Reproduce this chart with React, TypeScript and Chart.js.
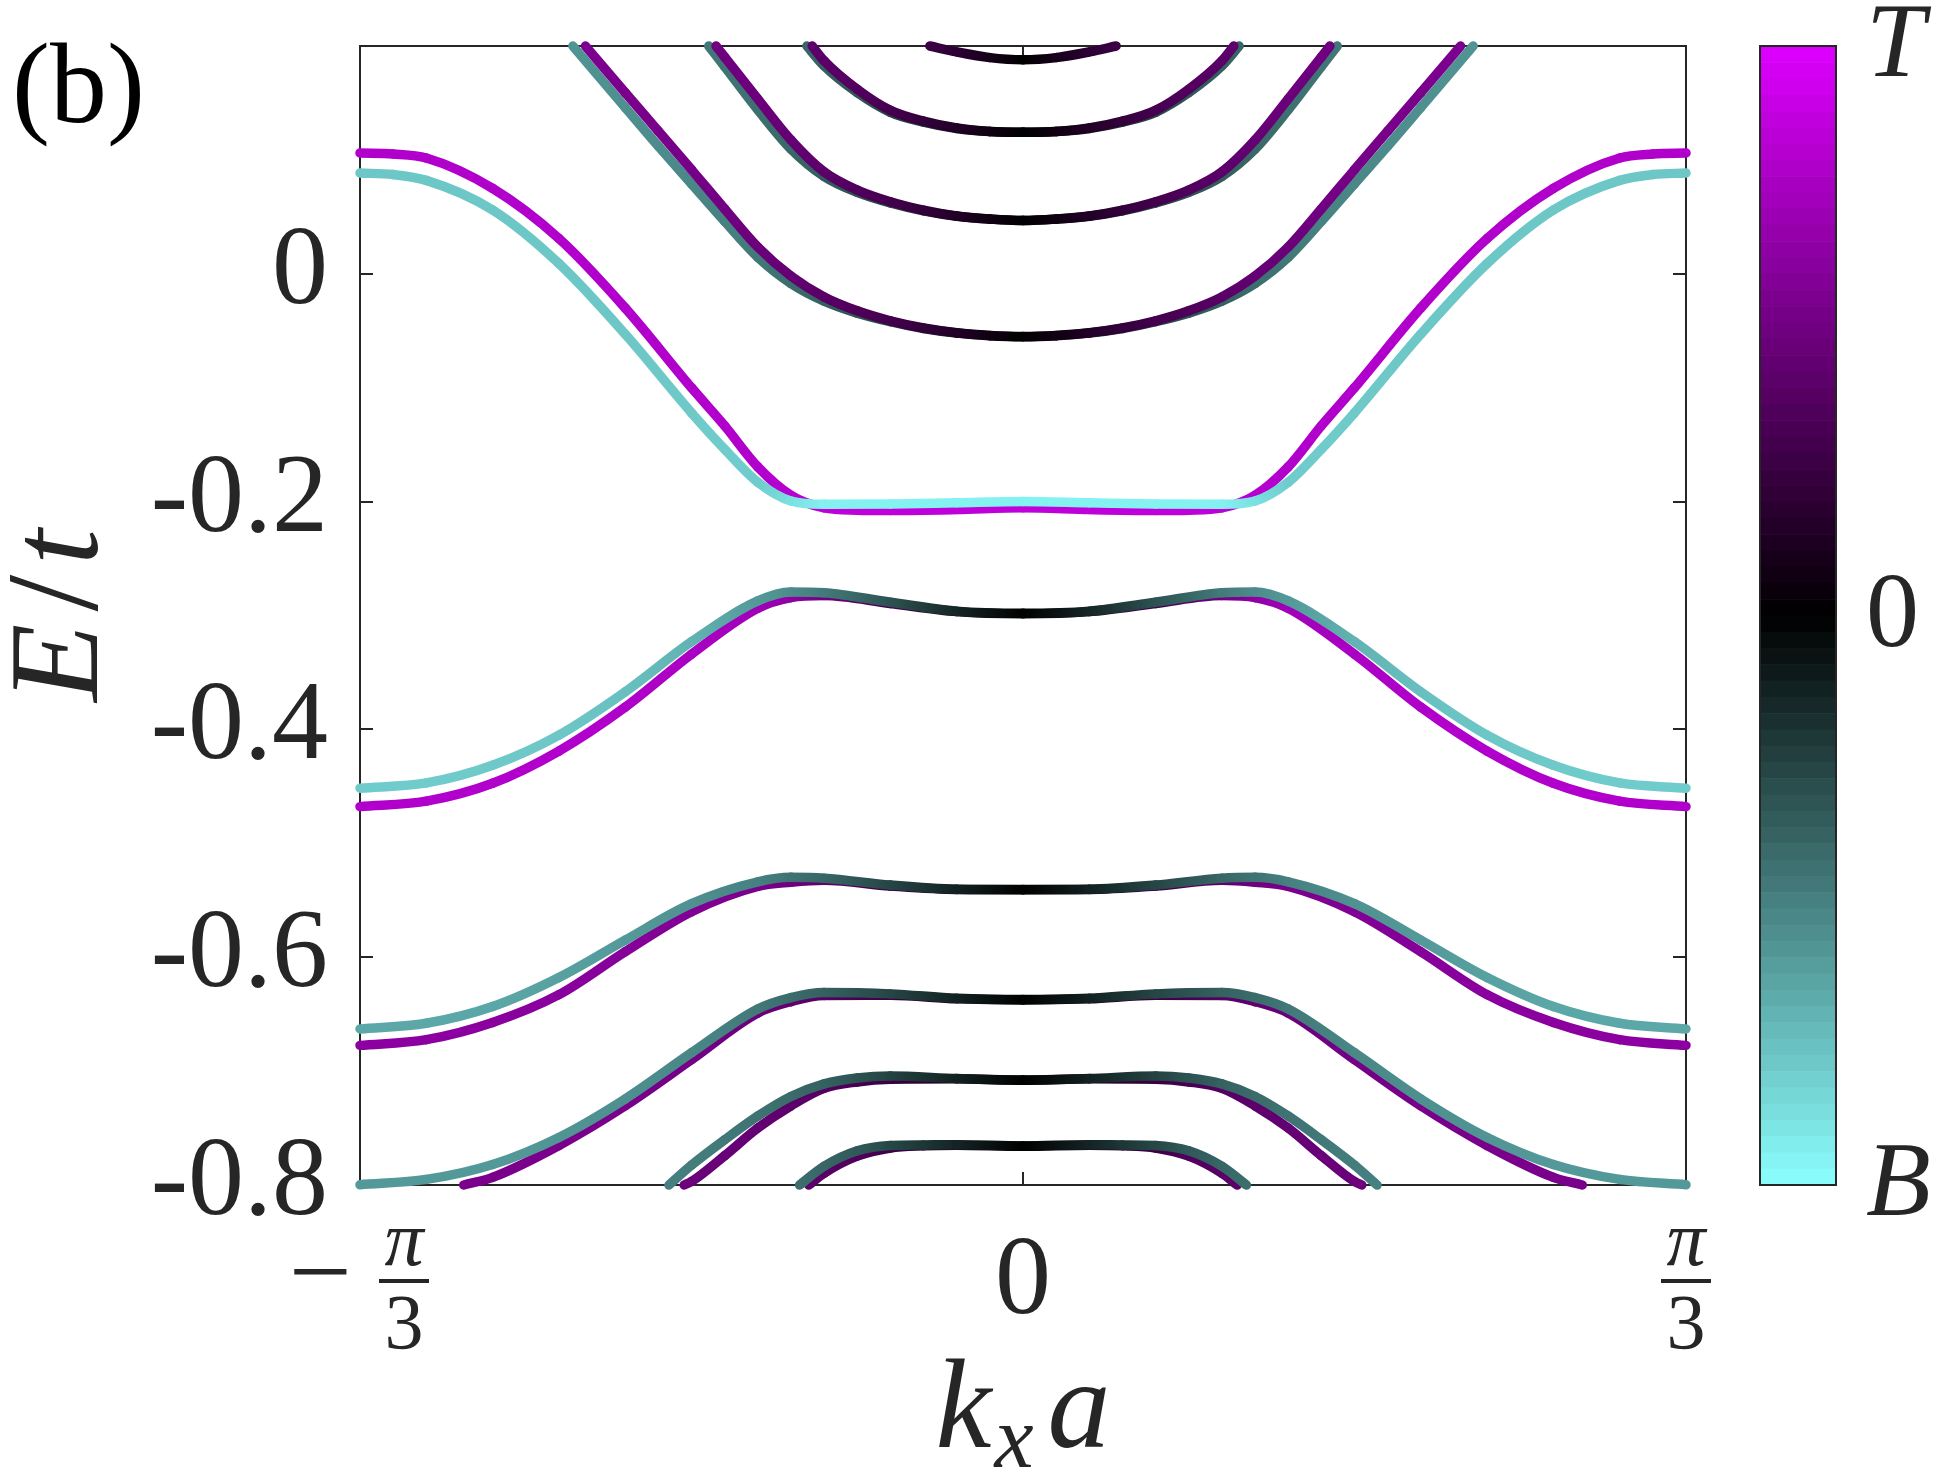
import React, { useEffect, useRef } from "react";
import { Chart, registerables } from "chart.js";

Chart.register(...registerables);

// Each point: [k_x a in units of π/3, E/t, layer weight (+1 = T ... -1 = B)]
type P = [number, number, number];

// ---------- upper bands (A) ----------
const bandA1: P[] = [[-0.1405, 0.2, 0.27], [-0.1, 0.1948, 0.2], [-0.05, 0.1898, 0.1], [0, 0.1879, 0], [0.05, 0.1898, 0.1], [0.1, 0.1948, 0.2], [0.1405, 0.2, 0.27]];
const bandA2B: P[] = [[-0.326, 0.2, -0.4], [-0.3, 0.1825, -0.38], [-0.25, 0.159, -0.34], [-0.2, 0.1418, -0.28], [-0.15, 0.1332, -0.21], [-0.1, 0.1276, -0.13], [-0.05, 0.1249, -0.06], [0, 0.1242, 0], [0.05, 0.1249, -0.06], [0.1, 0.1276, -0.13], [0.15, 0.1332, -0.21], [0.2, 0.1418, -0.28], [0.25, 0.159, -0.34], [0.3, 0.1825, -0.38], [0.326, 0.2, -0.4]];
const bandA2T: P[] = [[-0.318, 0.2, 0.42], [-0.3, 0.187, 0.41], [-0.25, 0.162, 0.37], [-0.2, 0.1435, 0.31], [-0.15, 0.134, 0.23], [-0.1, 0.128, 0.15], [-0.05, 0.125, 0.07], [0, 0.1242, 0], [0.05, 0.125, 0.07], [0.1, 0.128, 0.15], [0.15, 0.134, 0.23], [0.2, 0.1435, 0.31], [0.25, 0.162, 0.37], [0.3, 0.187, 0.41], [0.318, 0.2, 0.42]];
const bandA3B: P[] = [[-0.474, 0.2, -0.47], [-0.45, 0.182, -0.46], [-0.4, 0.144, -0.44], [-0.35, 0.1095, -0.41], [-0.3, 0.0855, -0.37], [-0.25, 0.0715, -0.32], [-0.2, 0.0622, -0.27], [-0.15, 0.0553, -0.2], [-0.1, 0.0505, -0.13], [-0.05, 0.048, -0.06], [0, 0.0468, 0], [0.05, 0.048, -0.06], [0.1, 0.0505, -0.13], [0.15, 0.0553, -0.2], [0.2, 0.0622, -0.27], [0.25, 0.0715, -0.32], [0.3, 0.0855, -0.37], [0.35, 0.1095, -0.41], [0.4, 0.144, -0.44], [0.45, 0.182, -0.46], [0.474, 0.2, -0.47]];
const bandA3T: P[] = [[-0.463, 0.2, 0.5], [-0.45, 0.1903, 0.5], [-0.4, 0.1536, 0.48], [-0.35, 0.1175, 0.45], [-0.3, 0.0895, 0.41], [-0.25, 0.0735, 0.36], [-0.2, 0.0632, 0.3], [-0.15, 0.0558, 0.23], [-0.1, 0.0507, 0.15], [-0.05, 0.0481, 0.07], [0, 0.0468, 0], [0.05, 0.0481, 0.07], [0.1, 0.0507, 0.15], [0.15, 0.0558, 0.23], [0.2, 0.0632, 0.3], [0.25, 0.0735, 0.36], [0.3, 0.0895, 0.41], [0.35, 0.1175, 0.45], [0.4, 0.1536, 0.48], [0.45, 0.1903, 0.5], [0.463, 0.2, 0.5]];
const bandA4B: P[] = [[-0.679, 0.2, -0.58], [-0.6, 0.146, -0.56], [-0.55, 0.112, -0.55], [-0.5, 0.079, -0.53], [-0.45, 0.046, -0.51], [-0.4, 0.0145, -0.47], [-0.35, -0.0085, -0.43], [-0.3, -0.024, -0.38], [-0.25, -0.0345, -0.33], [-0.2, -0.042, -0.28], [-0.15, -0.048, -0.21], [-0.1, -0.052, -0.14], [-0.05, -0.0543, -0.07], [0, -0.0552, 0], [0.05, -0.0543, -0.07], [0.1, -0.052, -0.14], [0.15, -0.048, -0.21], [0.2, -0.042, -0.28], [0.25, -0.0345, -0.33], [0.3, -0.024, -0.38], [0.35, -0.0085, -0.43], [0.4, 0.0145, -0.47], [0.45, 0.046, -0.51], [0.5, 0.079, -0.53], [0.55, 0.112, -0.55], [0.6, 0.146, -0.56], [0.679, 0.2, -0.58]];
const bandA4T: P[] = [[-0.66, 0.2, 0.56], [-0.6, 0.159, 0.55], [-0.55, 0.1253, 0.54], [-0.5, 0.0914, 0.53], [-0.45, 0.057, 0.51], [-0.4, 0.0235, 0.48], [-0.35, -0.002, 0.45], [-0.3, -0.0203, 0.4], [-0.25, -0.0325, 0.35], [-0.2, -0.0413, 0.3], [-0.15, -0.0476, 0.23], [-0.1, -0.0518, 0.15], [-0.05, -0.0541, 0.07], [0, -0.055, 0], [0.05, -0.0541, 0.07], [0.1, -0.0518, 0.15], [0.15, -0.0476, 0.23], [0.2, -0.0413, 0.3], [0.25, -0.0325, 0.35], [0.3, -0.0203, 0.4], [0.35, -0.002, 0.45], [0.4, 0.0235, 0.48], [0.45, 0.057, 0.51], [0.5, 0.0914, 0.53], [0.55, 0.1253, 0.54], [0.6, 0.159, 0.55], [0.66, 0.2, 0.56]];

// ---------- in-gap bands (B) ----------
const bandB1T: P[] = [[-1, 0.106, 0.8], [-0.95, 0.1052, 0.8], [-0.9, 0.1017, 0.8], [-0.8, 0.075, 0.8], [-0.7, 0.031, 0.8], [-0.6, -0.03, 0.8], [-0.5, -0.1, 0.8], [-0.45, -0.1334, 0.8], [-0.4, -0.1695, 0.8], [-0.35, -0.1945, 0.82], [-0.3, -0.2055, 0.85], [-0.25, -0.2075, 0.86], [-0.2, -0.2078, 0.86], [-0.1, -0.207, 0.86], [0, -0.2055, 0.86], [0.1, -0.207, 0.86], [0.2, -0.2078, 0.86], [0.25, -0.2075, 0.86], [0.3, -0.2055, 0.85], [0.35, -0.1945, 0.82], [0.4, -0.1695, 0.8], [0.45, -0.1334, 0.8], [0.5, -0.1, 0.8], [0.6, -0.03, 0.8], [0.7, 0.031, 0.8], [0.8, 0.075, 0.8], [0.9, 0.1017, 0.8], [0.95, 0.1052, 0.8], [1, 0.106, 0.8]];
const bandB1B: P[] = [[-1, 0.0885, -0.78], [-0.95, 0.0871, -0.78], [-0.9, 0.082, -0.78], [-0.8, 0.056, -0.78], [-0.7, 0.009, -0.78], [-0.6, -0.053, -0.78], [-0.5, -0.122, -0.79], [-0.45, -0.154, -0.8], [-0.4, -0.183, -0.8], [-0.35, -0.1995, -0.88], [-0.3, -0.2024, -0.94], [-0.2, -0.202, -0.95], [-0.1, -0.201, -0.95], [0, -0.2, -0.95], [0.1, -0.201, -0.95], [0.2, -0.202, -0.95], [0.3, -0.2024, -0.94], [0.35, -0.1995, -0.88], [0.4, -0.183, -0.8], [0.45, -0.154, -0.8], [0.5, -0.122, -0.79], [0.6, -0.053, -0.78], [0.7, 0.009, -0.78], [0.8, 0.056, -0.78], [0.9, 0.082, -0.78], [0.95, 0.0871, -0.78], [1, 0.0885, -0.78]];
const bandB2T: P[] = [[-1, -0.4678, 0.8], [-0.9, -0.463, 0.8], [-0.8, -0.4473, 0.8], [-0.7, -0.419, 0.8], [-0.6, -0.3805, 0.79], [-0.5, -0.334, 0.77], [-0.4, -0.2937, 0.72], [-0.35, -0.2843, 0.65], [-0.3, -0.2825, 0.5], [-0.2, -0.2895, 0.3], [-0.1, -0.2966, 0.15], [0, -0.2985, 0], [0.1, -0.2966, 0.15], [0.2, -0.2895, 0.3], [0.3, -0.2825, 0.5], [0.35, -0.2843, 0.65], [0.4, -0.2937, 0.72], [0.5, -0.334, 0.77], [0.6, -0.3805, 0.79], [0.7, -0.419, 0.8], [0.8, -0.4473, 0.8], [0.9, -0.463, 0.8], [1, -0.4678, 0.8]];
const bandB2B: P[] = [[-1, -0.4516, -0.8], [-0.9, -0.447, -0.8], [-0.8, -0.4315, -0.79], [-0.7, -0.405, -0.78], [-0.6, -0.367, -0.75], [-0.5, -0.323, -0.7], [-0.4, -0.2872, -0.6], [-0.35, -0.2793, -0.55], [-0.3, -0.28, -0.48], [-0.2, -0.2883, -0.32], [-0.1, -0.2962, -0.15], [0, -0.298, 0], [0.1, -0.2962, -0.15], [0.2, -0.2883, -0.32], [0.3, -0.28, -0.48], [0.35, -0.2793, -0.55], [0.4, -0.2872, -0.6], [0.5, -0.323, -0.7], [0.6, -0.367, -0.75], [0.7, -0.405, -0.78], [0.8, -0.4315, -0.79], [0.9, -0.447, -0.8], [1, -0.4516, -0.8]];

// ---------- lower bands (C) ----------
const bandC1T: P[] = [[-1, -0.6774, 0.63], [-0.9, -0.6724, 0.63], [-0.8, -0.6573, 0.62], [-0.7, -0.6329, 0.62], [-0.6, -0.5952, 0.6], [-0.5, -0.56, 0.58], [-0.4, -0.5378, 0.55], [-0.35, -0.5342, 0.5], [-0.3, -0.5325, 0.42], [-0.2, -0.5375, 0.28], [-0.1, -0.5406, 0.13], [0, -0.5408, 0], [0.1, -0.5406, 0.13], [0.2, -0.5375, 0.28], [0.3, -0.5325, 0.42], [0.35, -0.5342, 0.5], [0.4, -0.5378, 0.55], [0.5, -0.56, 0.58], [0.6, -0.5952, 0.6], [0.7, -0.6329, 0.62], [0.8, -0.6573, 0.62], [0.9, -0.6724, 0.63], [1, -0.6774, 0.63]];
const bandC1B: P[] = [[-1, -0.663, -0.66], [-0.9, -0.658, -0.66], [-0.8, -0.6433, -0.65], [-0.7, -0.6178, -0.63], [-0.6, -0.585, -0.6], [-0.5, -0.553, -0.57], [-0.4, -0.5338, -0.5], [-0.35, -0.5299, -0.45], [-0.3, -0.5306, -0.4], [-0.2, -0.5367, -0.27], [-0.1, -0.5403, -0.13], [0, -0.5406, 0], [0.1, -0.5403, -0.13], [0.2, -0.5367, -0.27], [0.3, -0.5306, -0.4], [0.35, -0.5299, -0.45], [0.4, -0.5338, -0.5], [0.5, -0.553, -0.57], [0.6, -0.585, -0.6], [0.7, -0.6178, -0.63], [0.8, -0.6433, -0.65], [0.9, -0.658, -0.66], [1, -0.663, -0.66]];
const bandC2T: P[] = [[-0.8435, -0.8, 0.55], [-0.8, -0.7933, 0.55], [-0.7, -0.7653, 0.55], [-0.6, -0.7305, 0.54], [-0.5, -0.69, 0.52], [-0.4, -0.649, 0.48], [-0.35, -0.639, 0.44], [-0.3, -0.6336, 0.38], [-0.2, -0.6335, 0.26], [-0.1, -0.6365, 0.13], [0, -0.6375, 0], [0.1, -0.6365, 0.13], [0.2, -0.6335, 0.26], [0.3, -0.6336, 0.38], [0.35, -0.639, 0.44], [0.4, -0.649, 0.48], [0.5, -0.69, 0.52], [0.6, -0.7305, 0.54], [0.7, -0.7653, 0.55], [0.8, -0.7933, 0.55], [0.8435, -0.8, 0.55]];
const bandC2B: P[] = [[-1, -0.7998, -0.6], [-0.9, -0.7951, -0.6], [-0.8, -0.782, -0.6], [-0.7, -0.7582, -0.58], [-0.6, -0.7244, -0.56], [-0.5, -0.6839, -0.53], [-0.4, -0.6454, -0.47], [-0.35, -0.6354, -0.42], [-0.3, -0.631, -0.38], [-0.2, -0.6322, -0.27], [-0.1, -0.6361, -0.13], [0, -0.6372, 0], [0.1, -0.6361, -0.13], [0.2, -0.6322, -0.27], [0.3, -0.631, -0.38], [0.35, -0.6354, -0.42], [0.4, -0.6454, -0.47], [0.5, -0.6839, -0.53], [0.6, -0.7244, -0.56], [0.7, -0.7582, -0.58], [0.8, -0.782, -0.6], [0.9, -0.7951, -0.6], [1, -0.7998, -0.6]];
const bandC3T: P[] = [[-0.511, -0.8, 0.48], [-0.5, -0.797, 0.48], [-0.45, -0.7743, 0.47], [-0.4, -0.75, 0.45], [-0.35, -0.7305, 0.42], [-0.3, -0.7151, 0.38], [-0.25, -0.7095, 0.32], [-0.2, -0.7072, 0.26], [-0.1, -0.7068, 0.13], [0, -0.708, 0], [0.1, -0.7068, 0.13], [0.2, -0.7072, 0.26], [0.25, -0.7095, 0.32], [0.3, -0.7151, 0.38], [0.35, -0.7305, 0.42], [0.4, -0.75, 0.45], [0.45, -0.7743, 0.47], [0.5, -0.797, 0.48], [0.511, -0.8, 0.48]];
const bandC3B: P[] = [[-0.534, -0.8, -0.5], [-0.5, -0.7826, -0.49], [-0.45, -0.7603, -0.47], [-0.4, -0.7395, -0.45], [-0.35, -0.7223, -0.42], [-0.3, -0.7112, -0.38], [-0.25, -0.706, -0.32], [-0.2, -0.7043, -0.26], [-0.1, -0.7065, -0.13], [0, -0.7079, 0], [0.1, -0.7065, -0.13], [0.2, -0.7043, -0.26], [0.25, -0.706, -0.32], [0.3, -0.7112, -0.38], [0.35, -0.7223, -0.42], [0.4, -0.7395, -0.45], [0.45, -0.7603, -0.47], [0.5, -0.7826, -0.49], [0.534, -0.8, -0.5]];
const bandC4T: P[] = [[-0.323, -0.8, 0.42], [-0.3, -0.7897, 0.4], [-0.25, -0.7747, 0.36], [-0.2, -0.7675, 0.28], [-0.15, -0.7655, 0.21], [-0.1, -0.765, 0.14], [0, -0.766, 0], [0.1, -0.765, 0.14], [0.15, -0.7655, 0.21], [0.2, -0.7675, 0.28], [0.25, -0.7747, 0.36], [0.3, -0.7897, 0.4], [0.323, -0.8, 0.42]];
const bandC4B: P[] = [[-0.337, -0.8, -0.43], [-0.3, -0.7836, -0.4], [-0.25, -0.77, -0.35], [-0.2, -0.7653, -0.28], [-0.15, -0.7648, -0.21], [-0.1, -0.7646, -0.14], [0, -0.7657, 0], [0.1, -0.7646, -0.14], [0.15, -0.7648, -0.21], [0.2, -0.7653, -0.28], [0.25, -0.77, -0.35], [0.3, -0.7836, -0.4], [0.337, -0.8, -0.43]];

// drawing order, bottom to top
const drawOrder: P[][] = [
  bandA1, bandA2B, bandA2T, bandA3B, bandA3T, bandA4B, bandA4T,
  bandB1T, bandB1B, bandB2T, bandB2B,
  bandC1T, bandC1B, bandC2T, bandC2B, bandC3T, bandC3B, bandC4T, bandC4B,
];

// ticks and labels
const xTickValues = [-1, 0, 1];
const xTickSigns = ["\u2212", "", ""];
const xTickNumerators = ["\u03c0", "0", "\u03c0"];
const xTickDenominators = ["3", "", "3"];
const yTickValues = [-0.8, -0.6, -0.4, -0.2, 0];
const yTickLabels = ["-0.8", "-0.6", "-0.4", "-0.2", "0"];
const cbarValues = [1, 0, -1];
const cbarLabels = ["T", "0", "B"];
const cbarItalic = [true, false, true];
const panelLabel = "(b)";

const W = 1942;
const H = 1481;
const SERIF = '"Liberation Serif", "DejaVu Serif", "Times New Roman", serif';
const INK = "#262626";

function cmapRGB(p: number): [number, number, number] {
  const q = Math.max(-1, Math.min(1, p));
  if (q >= 0) return [222 * q, 0, 255 * q];
  const r = -q;
  return [140 * r, 255 * r, 255 * r];
}
function cmap(p: number): string {
  const [r, g, b] = cmapRGB(p);
  return `rgb(${Math.round(r)},${Math.round(g)},${Math.round(b)})`;
}

function makeDataset(pts: P[], order: number) {
  const pol = pts.map((p) => p[2]);
  return {
    data: pts.map((p) => ({ x: p[0], y: p[1] })),
    borderColor: cmap(pol[0]),
    borderWidth: 9.5,
    borderCapStyle: "round",
    borderJoinStyle: "round",
    pointRadius: 0,
    pointHoverRadius: 0,
    cubicInterpolationMode: "monotone",
    fill: false,
    clip: 14,
    order,
    segment: {
      borderColor: (c: any) => {
        const g = c.chart.ctx.createLinearGradient(c.p0.x, c.p0.y, c.p1.x, c.p1.y);
        g.addColorStop(0, cmap(pol[c.p0DataIndex]));
        g.addColorStop(1, cmap(pol[c.p1DataIndex]));
        return g;
      },
    },
  };
}

const decorPlugin = {
  id: "decor",
  beforeDraw(chart: any) {
    const ctx = chart.ctx;
    ctx.save();
    ctx.fillStyle = "#ffffff";
    ctx.fillRect(0, 0, chart.width, chart.height);
    ctx.restore();
  },
  beforeDatasetsDraw(chart: any) {
    const ctx = chart.ctx;
    const { left, right, top, bottom } = chart.chartArea;
    const xs = chart.scales.x;
    const ys = chart.scales.y;
    ctx.save();
    ctx.strokeStyle = INK;
    ctx.lineWidth = 2;
    ctx.strokeRect(left, top, right - left, bottom - top);
    const tl = 13;
    ctx.beginPath();
    for (const v of yTickValues) {
      const y = Math.round(ys.getPixelForValue(v));
      ctx.moveTo(left, y);
      ctx.lineTo(left + tl, y);
      ctx.moveTo(right, y);
      ctx.lineTo(right - tl, y);
    }
    for (const v of xTickValues) {
      const x = Math.round(xs.getPixelForValue(v));
      ctx.moveTo(x, bottom);
      ctx.lineTo(x, bottom - tl);
      ctx.moveTo(x, top);
      ctx.lineTo(x, top + tl);
    }
    ctx.stroke();
    ctx.restore();
  },
  afterDraw(chart: any) {
    const ctx = chart.ctx;
    const { left, right, top, bottom } = chart.chartArea;
    const xs = chart.scales.x;
    const ys = chart.scales.y;
    ctx.save();
    ctx.fillStyle = INK;
    ctx.textBaseline = "alphabetic";

    // y tick labels
    ctx.font = `112px ${SERIF}`;
    ctx.textAlign = "right";
    yTickValues.forEach((v, i) => {
      const y = ys.getPixelForValue(v);
      ctx.fillText(yTickLabels[i], left - 32, y + 29);
    });

    // x tick labels
    xTickValues.forEach((v, i) => {
      const x = xs.getPixelForValue(v);
      if (!xTickDenominators[i]) {
        ctx.font = `112px ${SERIF}`;
        ctx.textAlign = "center";
        ctx.fillText(xTickNumerators[i], x, bottom + 128);
        return;
      }
      const fc = xTickSigns[i] ? x + 44 : x;
      const barY = bottom + 96;
      ctx.font = `italic 78px ${SERIF}`;
      ctx.textAlign = "center";
      ctx.fillText(xTickNumerators[i], fc, bottom + 80);
      ctx.font = `78px ${SERIF}`;
      ctx.fillText(xTickDenominators[i], fc, bottom + 163);
      ctx.fillRect(fc - 25, barY - 2, 50, 4);
      if (xTickSigns[i]) {
        ctx.font = `112px ${SERIF}`;
        ctx.fillText(xTickSigns[i], x - 40, barY + 28);
      }
    });

    // x axis label k_x a
    {
      const cx = (left + right) / 2;
      const base = bottom + 262;
      ctx.font = `italic 126px ${SERIF}`;
      const wk = ctx.measureText("k").width;
      const wa = ctx.measureText("a").width;
      ctx.font = `italic 88px ${SERIF}`;
      const wx = ctx.measureText("x").width;
      const g1 = 3;
      const g2 = 14;
      const total = wk + g1 + wx + g2 + wa;
      let x0 = cx - total / 2;
      ctx.textAlign = "left";
      ctx.font = `italic 126px ${SERIF}`;
      ctx.fillText("k", x0, base);
      x0 += wk + g1;
      ctx.font = `italic 88px ${SERIF}`;
      ctx.fillText("x", x0, base + 20);
      x0 += wx + g2;
      ctx.font = `italic 126px ${SERIF}`;
      ctx.fillText("a", x0, base);
    }

    // y axis label E/t (rotated)
    ctx.save();
    ctx.translate(left - 263, (top + bottom) / 2);
    ctx.rotate(-Math.PI / 2);
    {
      ctx.font = `italic 128px ${SERIF}`;
      const wE = ctx.measureText("E").width;
      const wt = ctx.measureText("t").width;
      ctx.font = `132px ${SERIF}`;
      const ws = ctx.measureText("/").width;
      const g1 = 12;
      const g2 = 10;
      const total = wE + g1 + ws + g2 + wt;
      let x0 = -total / 2;
      ctx.textAlign = "left";
      ctx.font = `italic 128px ${SERIF}`;
      ctx.fillText("E", x0, 0);
      x0 += wE + g1;
      ctx.font = `132px ${SERIF}`;
      ctx.fillText("/", x0, 0);
      x0 += ws + g2;
      ctx.font = `italic 128px ${SERIF}`;
      ctx.fillText("t", x0, 0);
    }
    ctx.restore();

    // panel label
    ctx.fillStyle = "#000";
    ctx.font = `114px ${SERIF}`;
    ctx.textAlign = "left";
    ctx.fillText(panelLabel, 12, 122);

    // colorbar
    const cbL = right + 74;
    const cbR = cbL + 76;
    const n = 70;
    const hStep = (bottom - top) / n;
    for (let i = 0; i < n; i++) {
      const v = 1 - ((i + 0.5) * 2) / n;
      ctx.fillStyle = cmap(v);
      ctx.fillRect(cbL, top + i * hStep, cbR - cbL, hStep + 0.6);
    }
    ctx.strokeStyle = INK;
    ctx.lineWidth = 2;
    ctx.strokeRect(cbL, top, cbR - cbL, bottom - top);

    ctx.fillStyle = INK;
    ctx.textAlign = "left";
    cbarValues.forEach((v, i) => {
      const y = bottom - ((v + 1) / 2) * (bottom - top);
      ctx.font = `${cbarItalic[i] ? "italic " : ""}106px ${SERIF}`;
      ctx.fillText(cbarLabels[i], cbR + 30, y + 30);
    });

    ctx.restore();
  },
};

export default function App() {
  const ref = useRef<HTMLCanvasElement | null>(null);
  useEffect(() => {
    const canvas = ref.current;
    if (!canvas) return;
    const n = drawOrder.length;
    const datasets = drawOrder.map((pts, i) => makeDataset(pts, n - i));
    const chart = new Chart(canvas, {
      type: "line",
      data: { datasets: datasets as any },
      options: {
        responsive: false,
        animation: false,
        devicePixelRatio: 1,
        events: [],
        layout: { padding: { left: 360, top: 46, right: W - 1686, bottom: H - 1185 } },
        scales: {
          x: { type: "linear", min: -1, max: 1, display: false },
          y: { type: "linear", min: -0.8, max: 0.2, display: false },
        },
        plugins: { legend: { display: false }, tooltip: { enabled: false } },
      },
      plugins: [decorPlugin as any],
    });
    return () => chart.destroy();
  }, []);
  return (
    <div style={{ position: "absolute", left: 0, top: 0, width: W, height: H, background: "#fff" }}>
      <canvas ref={ref} width={W} height={H} style={{ display: "block", width: W, height: H }} />
    </div>
  );
}
